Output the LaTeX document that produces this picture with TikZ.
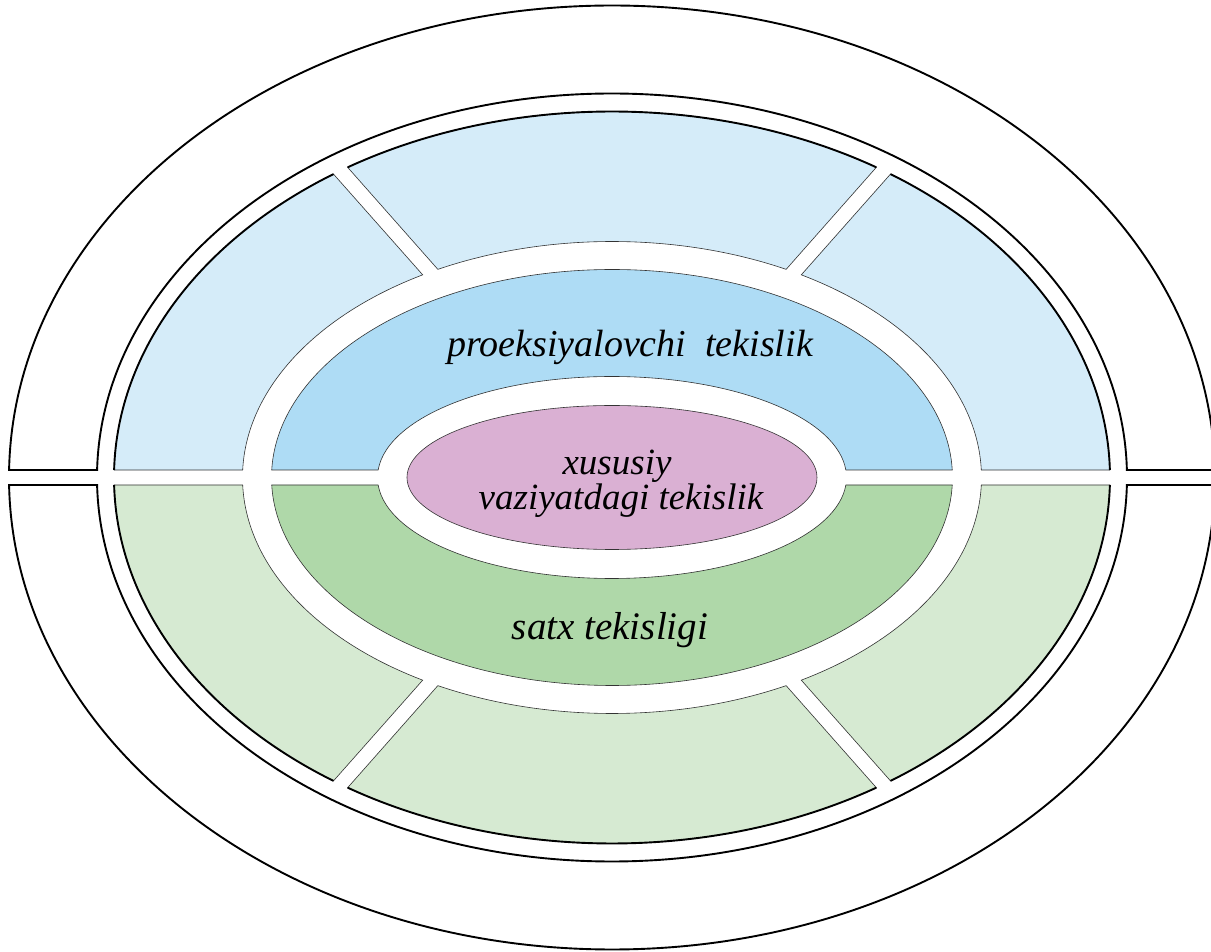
\documentclass[tikz,border=0pt]{standalone}
\usepackage{fontspec}
\setmainfont{Liberation Serif}
\definecolor{lblue}{HTML}{D5ECF9}
\definecolor{mblue}{HTML}{AEDCF5}
\definecolor{pinkc}{HTML}{DAB0D3}
\definecolor{mgreen}{HTML}{AFD8A9}
\definecolor{lgreen}{HTML}{D6EAD2}
\definecolor{thinc}{HTML}{333333}
\tikzset{
  thickline/.style={draw=black, line width=1.9pt},
  thinline/.style={draw=thinc, line width=0.6pt},
  lbl/.style={font=\fontsize{37}{36}\selectfont\itshape, inner sep=0pt, anchor=base, align=center}
}
% segment of the light ring: #1 fill, #2 outer start, #3 outer end, #4 inner start, #5 inner end
\newcommand\ringseg[5]{%
  \fill[#1, thinline] (#2:498 and 366) arc[start angle=#2, end angle=#3, x radius=498, y radius=366]
    -- (#4:369.5 and 236) arc[start angle=#4, end angle=#5, x radius=369.5, y radius=236] -- cycle;
  \draw[thickline] (#2:498 and 366) arc[start angle=#2, end angle=#3, x radius=498, y radius=366];}
\begin{document}
\begin{tikzpicture}[x=1pt,y=1pt]
\useasboundingbox (-612,-474.5) rectangle (599,477.5);
\fill[white] (-612,-474.5) rectangle (599,477.5);
\clip (-612,-474.5) rectangle (599,477.5);
% outer white ring, two halves
\path[fill=white, thickline, line join=miter] (0.910:603 and 472) arc[start angle=0.910, end angle=179.090, x radius=603, y radius=472]
  -- (178.881:515 and 384) arc[start angle=178.881, end angle=1.119, x radius=515, y radius=384] -- cycle;
\path[fill=white, thickline, line join=miter] (-0.910:603 and 472) arc[start angle=-0.910, end angle=-179.090, x radius=603, y radius=472]
  -- (-178.881:515 and 384) arc[start angle=-178.881, end angle=-1.119, x radius=515, y radius=384] -- cycle;
% light ring segments (top, blue)
\ringseg{lblue}{1.174}{55.995}{59.18}{1.821}
\ringseg{lblue}{57.94}{122.06}{118.12}{61.88}
\ringseg{lblue}{124.005}{178.826}{178.179}{120.82}
% light ring segments (bottom, green)
\ringseg{lgreen}{-1.174}{-55.995}{-59.18}{-1.821}
\ringseg{lgreen}{-57.94}{-122.06}{-118.12}{-61.88}
\ringseg{lgreen}{-124.005}{-178.826}{-178.179}{-120.82}
% middle half rings
\fill[mblue, thinline] (2.067:340.5 and 208) arc[start angle=2.067, end angle=177.933, x radius=340.5, y radius=208]
  -- (175.741:234.5 and 101) arc[start angle=175.741, end angle=4.259, x radius=234.5, y radius=101] -- cycle;
\fill[mgreen, thinline] (-2.067:340.5 and 208) arc[start angle=-2.067, end angle=-177.933, x radius=340.5, y radius=208]
  -- (-175.741:234.5 and 101) arc[start angle=-175.741, end angle=-4.259, x radius=234.5, y radius=101] -- cycle;
% central ellipse
\fill[pinkc, thinline] (0,0) ellipse[x radius=205, y radius=72];
% labels
\node[lbl, font=\fontsize{38}{36}\selectfont\itshape] (proj) at (18,120.5) {proeksiyalovchi\ \ tekislik};
\node[lbl] (xus) at (5,2.5) {xususiy};
\node[lbl] (vaz) at (9,-32.5) {vaziyatdagi tekislik};
\node[lbl, font=\fontsize{39}{36}\selectfont\itshape] (satx) at (-2,-162.5) {satx tekisligi};
\end{tikzpicture}
\end{document}
